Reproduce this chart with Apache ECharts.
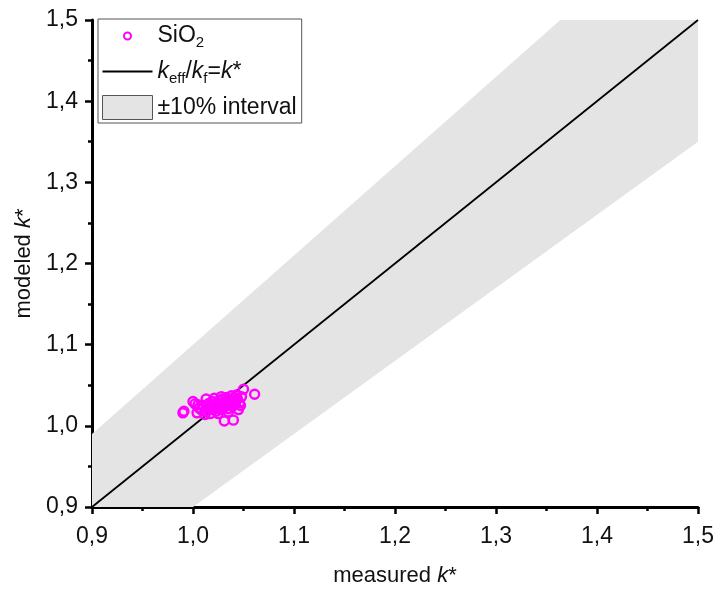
<!DOCTYPE html>
<html>
<head>
<meta charset="utf-8">
<script src="https://cdn.jsdelivr.net/npm/echarts@6/dist/echarts.min.js"></script>
<style>
  html, body { margin: 0; padding: 0; background: #fff; }
  #chart { width: 717px; height: 592px; }
</style>
</head>
<body>
<div id="chart"></div>
<script>
// measured k* vs modeled k* (SiO2)
const measured = [0.990, 0.991, 1.000, 1.002, 1.004, 1.006, 1.008, 1.010, 1.012, 1.013,
  1.015, 1.016, 1.017, 1.018, 1.019, 1.020, 1.021, 1.022, 1.023, 1.024,
  1.025, 1.026, 1.027, 1.028, 1.029, 1.030, 1.031, 1.031, 1.032, 1.033,
  1.034, 1.035, 1.036, 1.037, 1.038, 1.039, 1.040, 1.040, 1.041, 1.042,
  1.044, 1.045, 1.046, 1.048, 1.050, 1.061, 1.012, 1.025, 1.035, 1.005,
  1.028, 1.043, 1.047];
const modeled = [1.016, 1.018, 1.030, 1.027, 1.016, 1.022, 1.020, 1.025, 1.018, 1.033,
  1.022, 1.028, 1.015, 1.024, 1.030, 1.020, 1.034, 1.026, 1.018, 1.029,
  1.022, 1.031, 1.025, 1.020, 1.033, 1.027, 1.006, 1.023, 1.030, 1.035,
  1.026, 1.021, 1.032, 1.028, 1.037, 1.024, 1.007, 1.031, 1.035, 1.027,
  1.033, 1.020, 1.028, 1.036, 1.045, 1.039, 1.014, 1.015, 1.017, 1.026,
  1.036, 1.038, 1.025];
const identityLine = [[0.9, 0.9], [1.5, 1.5]];
// ±10% band corners: lower 0.9x, upper 1.1x
const bandLower = [[0.9, 0.81], [1.5, 1.35]];
const bandUpper = [[1.5, 1.65], [0.9, 0.99]];

const chart = echarts.init(document.getElementById('chart'));
const font = 'Liberation Sans';
const ink = '#111';
const fmt = v => v.toFixed(1).replace('.', ',');

// legend icons: 50x24 boxes (corner moves fix the bounding box)
const ringIcon = 'path://M0,0 M50,0 M50,24 M0,24 ' +
  'M20.5,12 A4.5,4.5 0 1,1 29.5,12 A4.5,4.5 0 1,1 20.5,12 Z ' +
  'M22.5,12 A2.5,2.5 0 1,0 27.5,12 A2.5,2.5 0 1,0 22.5,12 Z';
const lineIcon = 'path://M0,0 M50,0 M50,24 M0,24 M0,11.1 L50,11.1 L50,12.9 L0,12.9 Z';

chart.setOption({
  animation: false,
  textStyle: { fontFamily: font },
  grid: { left: 92, right: 17, top: 20, bottom: 81 },
  legend: {
    left: 98, top: 19,
    orient: 'vertical',
    backgroundColor: '#fff',
    borderColor: '#555',
    borderWidth: 1,
    borderRadius: 0,
    padding: [5, 5, 3, 4],
    itemWidth: 50, itemHeight: 24, itemGap: 9,
    data: [
      { name: 'SiO2', icon: ringIcon, itemStyle: { color: '#ff00ff', borderWidth: 0 } },
      { name: 'line', icon: lineIcon, itemStyle: { color: '#000', borderWidth: 0 } },
      { name: 'band', icon: 'rect', itemStyle: { color: '#e4e4e4', borderColor: '#555', borderWidth: 1 } }
    ],
    formatter: function (name) {
      if (name === 'SiO2') return '{n|SiO}{sub|2}';
      if (name === 'line') return '{i|k}{sub|eff}{n|/}{i|k}{sub|f}{n|=}{i|k}{n|*}';
      return '{n|±10% interval}';
    },
    textStyle: {
      fontSize: 23, color: ink,
      rich: {
        n: { fontSize: 23, fontFamily: font, color: ink },
        i: { fontSize: 23, fontFamily: font, fontStyle: 'italic', color: ink },
        sub: { fontSize: 15, fontFamily: font, color: ink, padding: [14, 0, 0, 0] }
      }
    }
  },
  xAxis: {
    type: 'value', min: 0.9, max: 1.5, interval: 0.1,
    name: 'measured {i|k}*', nameLocation: 'middle', nameGap: 58,
    nameTextStyle: { fontSize: 22, color: ink, rich: { i: { fontSize: 22, fontStyle: 'italic', color: ink } } },
    axisLine: { lineStyle: { color: '#000', width: 3 } },
    axisTick: { length: 7, lineStyle: { color: '#000', width: 2.5 } },
    minorTick: { show: true, splitNumber: 2, length: 4, lineStyle: { color: '#000', width: 2.5 } },
    axisLabel: { fontSize: 23, color: ink, margin: 18, formatter: fmt },
    splitLine: { show: false }
  },
  yAxis: {
    type: 'value', min: 0.9, max: 1.5, interval: 0.1,
    name: 'modeled {i|k}*', nameLocation: 'middle', nameGap: 55,
    nameTextStyle: { fontSize: 22, color: ink, rich: { i: { fontSize: 22, fontStyle: 'italic', color: ink } } },
    axisLine: { lineStyle: { color: '#000', width: 3 } },
    axisTick: { length: 7, lineStyle: { color: '#000', width: 2.5 } },
    minorTick: { show: true, splitNumber: 2, length: 4, lineStyle: { color: '#000', width: 2.5 } },
    axisLabel: { fontSize: 23, color: ink, margin: 14, formatter: fmt },
    splitLine: { show: false }
  },
  series: [
    {
      name: 'band',
      type: 'custom',
      clip: true,
      z: 1,
      itemStyle: { color: '#e4e4e4' },
      data: [0],
      renderItem: function (params, api) {
        const pts = bandLower.concat(bandUpper).map(p => api.coord(p));
        return {
          type: 'polygon',
          shape: { points: pts },
          style: { fill: '#e4e4e4' }
        };
      }
    },
    {
      name: 'line',
      type: 'line',
      z: 2,
      symbol: 'none',
      data: identityLine,
      lineStyle: { color: '#000', width: 1.8 },
      itemStyle: { color: '#000' }
    },
    {
      name: 'SiO2',
      type: 'scatter',
      z: 3,
      symbol: 'circle',
      symbolSize: 9,
      data: measured.map((x, i) => [x, modeled[i]]),
      itemStyle: { color: 'rgba(0,0,0,0)', borderColor: '#ff00ff', borderWidth: 2.4, opacity: 1 }
    }
  ]
});
</script>
</body>
</html>
